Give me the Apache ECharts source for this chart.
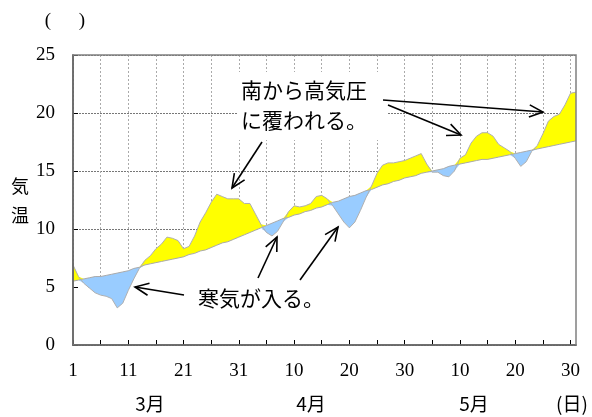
<!DOCTYPE html>
<html><head><meta charset="utf-8">
<script src="https://cdn.jsdelivr.net/npm/echarts@6/dist/echarts.min.js"></script>
<style>html,body{margin:0;padding:0;background:#fff}#c{width:592px;height:417px}</style>
</head><body><div id="c"></div>
<script>
// day-of-month categories: March 1-31, April 1-30, May 1-31
const days = [1,2,3,4,5,6,7,8,9,10,11,12,13,14,15,16,17,18,19,20,21,22,23,24,25,26,27,28,29,30,31,
  1,2,3,4,5,6,7,8,9,10,11,12,13,14,15,16,17,18,19,20,21,22,23,24,25,26,27,28,29,30,
  1,2,3,4,5,6,7,8,9,10,11,12,13,14,15,16,17,18,19,20,21,22,23,24,25,26,27,28,29,30,31];
// observed temperature (smoothed)
const actual = [6.9,5.9,5.3,4.9,4.5,4.3,4.2,4.0,3.2,3.6,
  4.7,5.7,6.6,7.3,7.7,8.3,8.7,9.3,9.2,9.0,
  8.3,8.5,9.4,10.6,11.4,12.3,13.0,12.8,12.6,12.6,
  12.6,12.2,12.2,11.3,10.4,9.7,9.4,9.8,10.6,11.5,
  12.0,11.9,12.0,12.2,12.8,12.9,12.6,12.0,11.3,10.6,
  10.1,10.6,11.6,12.7,13.7,14.8,15.5,15.7,15.7,15.8,
  15.9,16.1,16.3,16.5,15.6,14.9,14.9,14.6,14.5,15.0,
  16.1,16.4,17.4,18.0,18.3,18.3,18.0,17.3,17.0,16.7,
  16.1,15.4,15.8,16.7,17.2,18.2,19.3,19.7,19.9,20.7,
  21.7,21.8];
// normal (climatological) temperature
const normal = [5.5,5.6,5.7,5.8,5.9,5.9,6.0,6.1,6.2,6.3,
  6.4,6.6,6.7,6.9,7.0,7.1,7.2,7.3,7.4,7.5,
  7.6,7.8,7.9,8.1,8.2,8.4,8.6,8.8,8.9,9.1,
  9.3,9.5,9.7,9.9,10.1,10.3,10.5,10.7,10.9,11.0,
  11.2,11.3,11.5,11.6,11.8,11.9,12.1,12.3,12.4,12.6,
  12.8,12.9,13.1,13.3,13.4,13.6,13.8,13.9,14.1,14.2,
  14.4,14.5,14.6,14.8,14.9,15.0,15.1,15.2,15.4,15.5,
  15.6,15.7,15.8,15.9,16.0,16.0,16.1,16.2,16.3,16.4,
  16.5,16.6,16.7,16.8,16.9,17.0,17.1,17.2,17.3,17.4,
  17.5,17.6];
const months = ['3月','4月','5月'];
const unitLabel = '(日)';
const yTitle = '気\n温';
const noteWarm = '南から高気圧\nに覆われる。';
const noteCold = '寒気が入る。';

const base = actual.map((a,i)=>Math.min(a, normal[i]));
const coldBand = actual.map((a,i)=>Math.max(0, +(normal[i]-a).toFixed(2)));
const warmBand = actual.map((a,i)=>Math.max(0, +(a-normal[i]).toFixed(2)));

const chart = echarts.init(document.getElementById('c'), null, {renderer:'canvas'});
const serif = '"Liberation Serif", "Times New Roman", serif';
const jp = '"Noto Sans CJK JP", sans-serif';

function arrow(x1,y1,x2,y2){
  const ang = Math.atan2(y2-y1, x2-x1);
  const L = 15, a = 0.42;
  const p1 = [x2 - L*Math.cos(ang-a), y2 - L*Math.sin(ang-a)];
  const p2 = [x2 - L*Math.cos(ang+a), y2 - L*Math.sin(ang+a)];
  return [
    {type:'line', z:120, shape:{x1,y1,x2,y2}, style:{stroke:'#000', lineWidth:1.6}},
    {type:'polyline', z:120, shape:{points:[p1,[x2,y2],p2]}, style:{stroke:'#000', fill:null, lineWidth:1.6}}
  ];
}

const graphics = [
  {type:'rect', z:110, shape:{x:237,y:72,width:151,height:68}, style:{fill:'#fff'}},
  {type:'text', z:120, style:{text:noteWarm, x:241, y:105, font:'21px '+jp, fill:'#000', textAlign:'left', textVerticalAlign:'middle', lineHeight:30}},
  {type:'text', z:120, style:{text:noteCold, x:198, y:298, font:'21px '+jp, fill:'#000', textAlign:'left', textVerticalAlign:'middle'}},
  {type:'text', z:120, style:{text:yTitle, x:20, y:201, font:'18px '+jp, fill:'#000', textAlign:'center', textVerticalAlign:'middle', lineHeight:29}},
  {type:'text', z:120, style:{text:'(', x:48, y:21, font:'19px '+serif, fill:'#000', textAlign:'center', textVerticalAlign:'middle'}},
  {type:'text', z:120, style:{text:')', x:82, y:21, font:'19px '+serif, fill:'#000', textAlign:'center', textVerticalAlign:'middle'}},
  {type:'text', z:120, style:{text:months[0], x:150, y:404, font:'19px '+jp, fill:'#000', textAlign:'center', textVerticalAlign:'middle'}},
  {type:'text', z:120, style:{text:months[1], x:311, y:404, font:'19px '+jp, fill:'#000', textAlign:'center', textVerticalAlign:'middle'}},
  {type:'text', z:120, style:{text:months[2], x:474, y:404, font:'19px '+jp, fill:'#000', textAlign:'center', textVerticalAlign:'middle'}},
  {type:'text', z:120, style:{text:unitLabel, x:572, y:404, font:'19px '+jp, fill:'#000', textAlign:'center', textVerticalAlign:'middle'}},
  {type:'rect', z:115, shape:{x:73,y:55,width:503,height:290}, style:{fill:null, stroke:'#808080', lineWidth:1.5}}
].concat(
  arrow(262,142,232,188),
  arrow(383,100,543,112),
  arrow(388,105,461,135),
  arrow(184,295,135,287),
  arrow(258,278,277,237),
  arrow(300,280,338,227)
);

const everyFive = i => i % 5 === 0;
chart.setOption({
  animation:false,
  backgroundColor:'#fff',
  grid:{left:73, right:16, top:55, bottom:72, show:false, outerBoundsMode:'none'},
  xAxis:[
    {type:'category', data:days, boundaryGap:false, position:'bottom', z:0,
     axisLine:{show:false}, axisTick:{show:false}, axisLabel:{show:false},
     splitLine:{show:true, interval:everyFive, lineStyle:{color:'#aaa', width:1, type:[2,2]}}},
    {type:'category', data:days, boundaryGap:false, position:'bottom', offset:0, z:20,
     axisLine:{show:true, lineStyle:{color:'#000', width:1.5}},
     axisTick:{show:true, inside:true, length:5, interval:everyFive, lineStyle:{color:'#000'}},
     axisLabel:{interval:i=>i%10===0, color:'#000', fontFamily:serif, fontSize:19, margin:17},
     splitLine:{show:false}}
  ],
  yAxis:[
    {type:'value', min:0, max:25, interval:5, position:'left', z:0,
     axisLine:{show:false}, axisTick:{show:false}, axisLabel:{show:false},
     splitLine:{show:true, lineStyle:{color:'#777', width:1, type:[2,1]}}},
    {type:'value', min:0, max:25, interval:5, position:'left', offset:0, z:20,
     axisLine:{show:true, lineStyle:{color:'#000', width:1.5}},
     axisTick:{show:true, inside:true, length:5, lineStyle:{color:'#000'}},
     axisLabel:{color:'#000', fontFamily:serif, fontSize:19, margin:18},
     splitLine:{show:false}}
  ],
  series:[
    {type:'line', stack:'t', data:base, symbol:'none', silent:true, z:2,
     lineStyle:{opacity:0}, areaStyle:{color:'#ffffff', opacity:1}},
    {type:'line', stack:'t', data:coldBand, symbol:'none', silent:true, z:3,
     lineStyle:{opacity:0}, areaStyle:{color:'#99ccff', opacity:1}},
    {type:'line', stack:'t', data:warmBand, symbol:'none', silent:true, z:3,
     lineStyle:{opacity:0}, areaStyle:{color:'#ffff00', opacity:1}},
    {type:'line', data:normal, symbol:'none', silent:true, z:4,
     lineStyle:{color:'#aaaaaa', width:1}},
    {type:'line', data:actual, symbol:'none', silent:true, z:4,
     lineStyle:{color:'#b0b0b0', width:1}}
  ],
  graphic:graphics
});
</script>
</body></html>
